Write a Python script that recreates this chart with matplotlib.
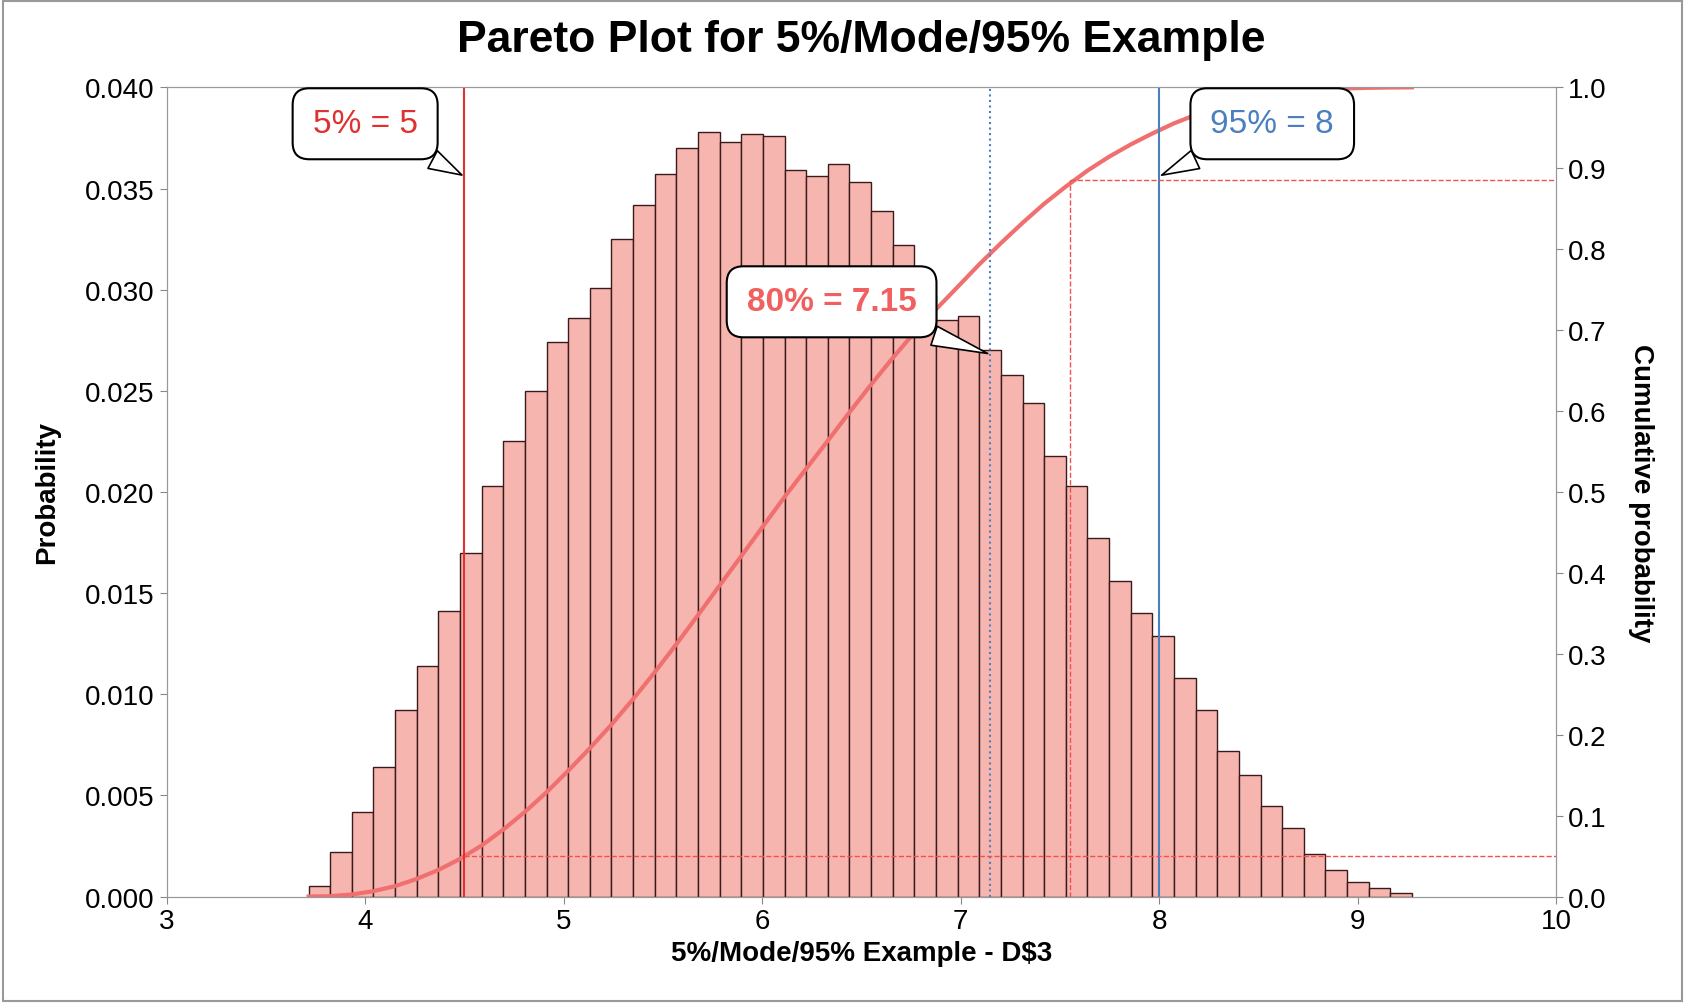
import numpy as np
import matplotlib.pyplot as plt
from matplotlib.patches import Rectangle

bin_start = 3.715
bin_width = 0.109
probs = [0.0005, 0.0022, 0.0042, 0.0064, 0.0092, 0.0114, 0.0141, 0.0170, 0.0203, 0.0225,
         0.0250, 0.0274, 0.0286, 0.0301, 0.0325, 0.0342, 0.0357, 0.0370, 0.0378, 0.0373,
         0.0377, 0.0376, 0.0359, 0.0356, 0.0362, 0.0353, 0.0339, 0.0322, 0.0297, 0.0285,
         0.0287, 0.0270, 0.0258, 0.0244, 0.0218, 0.0203, 0.0177, 0.0156, 0.0140, 0.0129,
         0.0108, 0.0092, 0.0072, 0.0060, 0.0045, 0.0034, 0.0021, 0.0013, 0.0007, 0.0004, 0.0002]
p5, p80, p95 = 4.5, 7.15, 8.0
marker_x, marker_y = 7.55, 0.885
labels = ["5% = 5", "80% = 7.15", "95% = 8"]

plt.rcParams['font.family'] = ['Liberation Sans', 'DejaVu Sans']
fig = plt.figure(figsize=(16.85, 10.04), dpi=100)
fig.patches.append(Rectangle((0.002, 0.002), 0.996, 0.996, transform=fig.transFigure,
                             fill=False, edgecolor='#999999', lw=1.5))
ax = fig.add_axes([0.0989, 0.106, 0.8246, 0.806])
n = len(probs)
edges = bin_start + bin_width * np.arange(n)
ax.bar(edges, probs, width=bin_width, align='edge', color='#F7B5B0', edgecolor='#3a1a1a', lw=1.0)
ax.set_xlim(3, 10)
ax.set_ylim(0, 0.040)
ax.set_yticks(np.arange(0, 0.0401, 0.005))
ax.set_yticklabels([f"{v:.3f}" for v in np.arange(0, 0.0401, 0.005)])
ax.tick_params(labelsize=20, length=5, color='#888888')
for s in ax.spines.values():
    s.set_color('#999999')
ax.set_xlabel("5%/Mode/95% Example - D$3", fontsize=20, fontweight='bold')
ax.set_ylabel("Probability", fontsize=20, fontweight='bold', labelpad=18)
ax.set_title("Pareto Plot for 5%/Mode/95% Example", fontsize=32, fontweight='bold', pad=26)

ax2 = ax.twinx()
ax2.set_ylim(0, 1.0)
ax2.set_yticks(np.arange(0, 1.01, 0.1))
ax2.set_yticklabels([f"{v:.1f}" for v in np.arange(0, 1.01, 0.1)])
ax2.tick_params(labelsize=20, length=5, color='#888888')
ax2.set_ylabel("Cumulative probability", fontsize=20, fontweight='bold', rotation=270, labelpad=34)
for s in ax2.spines.values():
    s.set_color('#999999')
cum = np.cumsum(probs) / np.sum(probs)
cx = np.concatenate([[edges[0]], edges + bin_width])
cy = np.concatenate([[0], cum])
ax2.plot(cx, cy, color='#F07070', lw=3)

ax2.axvline(p5, color='#E03030', lw=1.5)
ax2.axvline(p80, color='#4A7FC0', lw=1.5, ls=':')
ax2.axvline(p95, color='#4A7FC0', lw=1.5)
ax2.plot([p5, 10], [0.05, 0.05], color='#F05050', lw=1, ls='--')
ax2.plot([marker_x, 10], [marker_y, marker_y], color='#F05050', lw=1, ls='--')
ax2.plot([marker_x, marker_x], [0, marker_y], color='#F05050', lw=1, ls='--')

box = dict(boxstyle='round,pad=0.6,rounding_size=0.5', fc='white', ec='black', lw=1.5)
ax2.annotate(labels[0], xy=(p5, 0.89), xytext=(4.0, 0.955), fontsize=24, color='#E03030',
             ha='center', va='center', bbox=box,
             arrowprops=dict(arrowstyle='wedge,tail_width=0.6', fc='white', ec='black', lw=1.2))
ax2.annotate(labels[1], xy=(p80, 0.67), xytext=(6.35, 0.735), fontsize=24, color='#F06060',
             fontweight='bold', ha='center', va='center', bbox=box,
             arrowprops=dict(arrowstyle='wedge,tail_width=0.6', fc='white', ec='black', lw=1.2))
ax2.annotate(labels[2], xy=(p95, 0.89), xytext=(8.57, 0.955), fontsize=24, color='#4A7FC0',
             ha='center', va='center', bbox=box,
             arrowprops=dict(arrowstyle='wedge,tail_width=0.6', fc='white', ec='black', lw=1.2))

fig.savefig("out.png", dpi=100)
